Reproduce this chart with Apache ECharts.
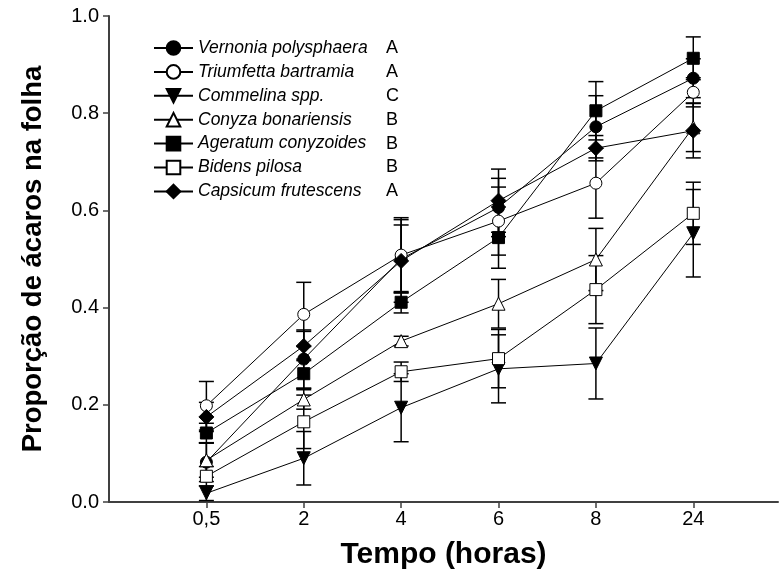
<!DOCTYPE html>
<html>
<head>
<meta charset="utf-8">
<script src="https://cdn.jsdelivr.net/npm/echarts@6/dist/echarts.min.js"></script>
<style>
  html, body { margin: 0; padding: 0; background: #fff; }
  #chart { width: 781px; height: 576px; }
</style>
</head>
<body>
<div id="chart"></div>
<script>
// Sampling times (hours)
const categories = ['0,5', '2', '4', '6', '8', '24'];

// Mean proportion of mites on the leaf, with standard errors
const vernonia      = [0.082, 0.294, 0.500, 0.606, 0.772, 0.872];
const vernoniaErr   = [0.040, 0.060, 0.070, 0.060, 0.064, 0.040];
const triumfetta    = [0.198, 0.386, 0.508, 0.578, 0.656, 0.843];
const triumfettaErr = [0.050, 0.066, 0.077, 0.070, 0.072, 0.030];
const commelina     = [0.018, 0.090, 0.194, 0.274, 0.285, 0.553];
const commelinaErr  = [0.015, 0.055, 0.070, 0.070, 0.073, 0.090];
const conyza        = [0.086, 0.211, 0.331, 0.408, 0.499, 0.771];
const conyzaErr     = [0.035, 0.020, 0.010, 0.050, 0.064, 0.050];
const ageratum      = [0.142, 0.264, 0.411, 0.544, 0.805, 0.913];
const ageratumErr   = [0.020, 0.030, 0.022, 0.063, 0.060, 0.044];
const bidens        = [0.053, 0.165, 0.268, 0.295, 0.437, 0.594];
const bidensErr     = [0.020, 0.055, 0.020, 0.060, 0.070, 0.064];
const capsicum      = [0.175, 0.321, 0.496, 0.620, 0.728, 0.764];
const capsicumErr   = [0.030, 0.030, 0.085, 0.065, 0.026, 0.056];

// Species names and statistical groups
const speciesNames = ['Vernonia polysphaera', 'Triumfetta bartramia', 'Commelina spp.',
  'Conyza bonariensis', 'Ageratum conyzoides', 'Bidens pilosa', 'Capsicum frutescens'];
const speciesGroups = ['A', 'A', 'C', 'B', 'B', 'B', 'A'];

const means = [vernonia, triumfetta, commelina, conyza, ageratum, bidens, capsicum];
const errors = [vernoniaErr, triumfettaErr, commelinaErr, conyzaErr, ageratumErr, bidensErr, capsicumErr];

// Marker look per species: [symbol, filled, size, rotate]
const markers = [
  ['circle', true, 12, 0],
  ['circle', false, 12, 0],
  ['triangle', true, 13, 180],
  ['triangle', false, 13, 0],
  ['rect', true, 12, 0],
  ['rect', false, 12, 0],
  ['diamond', true, 15, 0]
];

const FONT = '"Liberation Sans", Arial, sans-serif';

const lineSeries = speciesNames.map((name, i) => ({
  type: 'line',
  name: name,
  data: means[i].map((v, k) => [k + 1, v]),
  symbol: markers[i][0],
  symbolSize: markers[i][2],
  symbolRotate: markers[i][3],
  showAllSymbol: true,
  z: 10 + i,
  lineStyle: { color: '#000', width: 1 },
  itemStyle: {
    color: markers[i][1] ? '#000' : '#fff',
    borderColor: '#000',
    borderWidth: 1
  },
  emphasis: { disabled: true },
  animation: false
}));

// Vertical error bars with caps
const errorSeries = speciesNames.map((name, i) => ({
  type: 'custom',
  name: name + ' SE',
  z: 2,
  silent: true,
  animation: false,
  data: means[i].map((v, k) => [k + 1, v, errors[i][k]]),
  renderItem: function (params, api) {
    const x = api.value(0), y = api.value(1), e = api.value(2);
    const top = api.coord([x, y + e]);
    const bot = api.coord([x, y - e]);
    const hw = 7.5;
    const style = { stroke: '#000', lineWidth: 1.5 };
    return {
      type: 'group',
      children: [
        { type: 'line', shape: { x1: top[0], y1: top[1], x2: bot[0], y2: bot[1] }, style: style },
        { type: 'line', shape: { x1: top[0] - hw, y1: top[1], x2: top[0] + hw, y2: top[1] }, style: style },
        { type: 'line', shape: { x1: bot[0] - hw, y1: bot[1], x2: bot[0] + hw, y2: bot[1] }, style: style }
      ]
    };
  }
}));

const chart = echarts.init(document.getElementById('chart'));
chart.setOption({
  backgroundColor: '#fff',
  animation: false,
  textStyle: { fontFamily: FONT },
  grid: { left: 109, right: 3, top: 16, bottom: 74 },
  xAxis: {
    type: 'value',
    min: 0,
    max: 6.87,
    name: 'Tempo (horas)',
    nameLocation: 'middle',
    nameGap: 38,
    nameTextStyle: { fontSize: 30, fontWeight: 'bold', color: '#000', fontFamily: FONT },
    axisLine: { lineStyle: { color: '#404040', width: 2 } },
    axisTick: { customValues: [1, 2, 3, 4, 5, 6], length: 6, lineStyle: { color: '#404040', width: 1.5 } },
    axisLabel: {
      customValues: [1, 2, 3, 4, 5, 6],
      formatter: v => categories[Math.round(v) - 1] || '',
      color: '#000', fontSize: 20, margin: 7, fontFamily: FONT
    },
    splitLine: { show: false }
  },
  yAxis: {
    type: 'value',
    min: 0,
    max: 1,
    interval: 0.2,
    name: 'Proporção de ácaros na folha',
    nameLocation: 'middle',
    nameGap: 62,
    nameTextStyle: { fontSize: 27.5, fontWeight: 'bold', color: '#000', fontFamily: FONT },
    axisLine: { show: true, lineStyle: { color: '#404040', width: 2 } },
    axisTick: { show: true, length: 6, lineStyle: { color: '#404040', width: 1.5 } },
    axisLabel: {
      formatter: v => v.toFixed(1),
      color: '#000', fontSize: 20, margin: 10, fontFamily: FONT
    },
    splitLine: { show: false }
  },
  legend: {
    data: speciesNames,
    orient: 'vertical',
    left: 148,
    top: 34,
    itemWidth: 39,
    itemHeight: 17,
    itemGap: 5.9,
    selectedMode: false,
    formatter: name => '{n|' + name + '}{g|' + speciesGroups[speciesNames.indexOf(name)] + '}',
    textStyle: {
      color: '#000',
      fontFamily: FONT,
      lineHeight: 17,
      rich: {
        n: { width: 188, fontSize: 17.5, lineHeight: 17, fontStyle: 'italic', color: '#000', fontFamily: FONT },
        g: { fontSize: 18, lineHeight: 17, color: '#000', fontFamily: FONT }
      }
    }
  },
  series: [...errorSeries, ...lineSeries]
});
</script>
</body>
</html>
